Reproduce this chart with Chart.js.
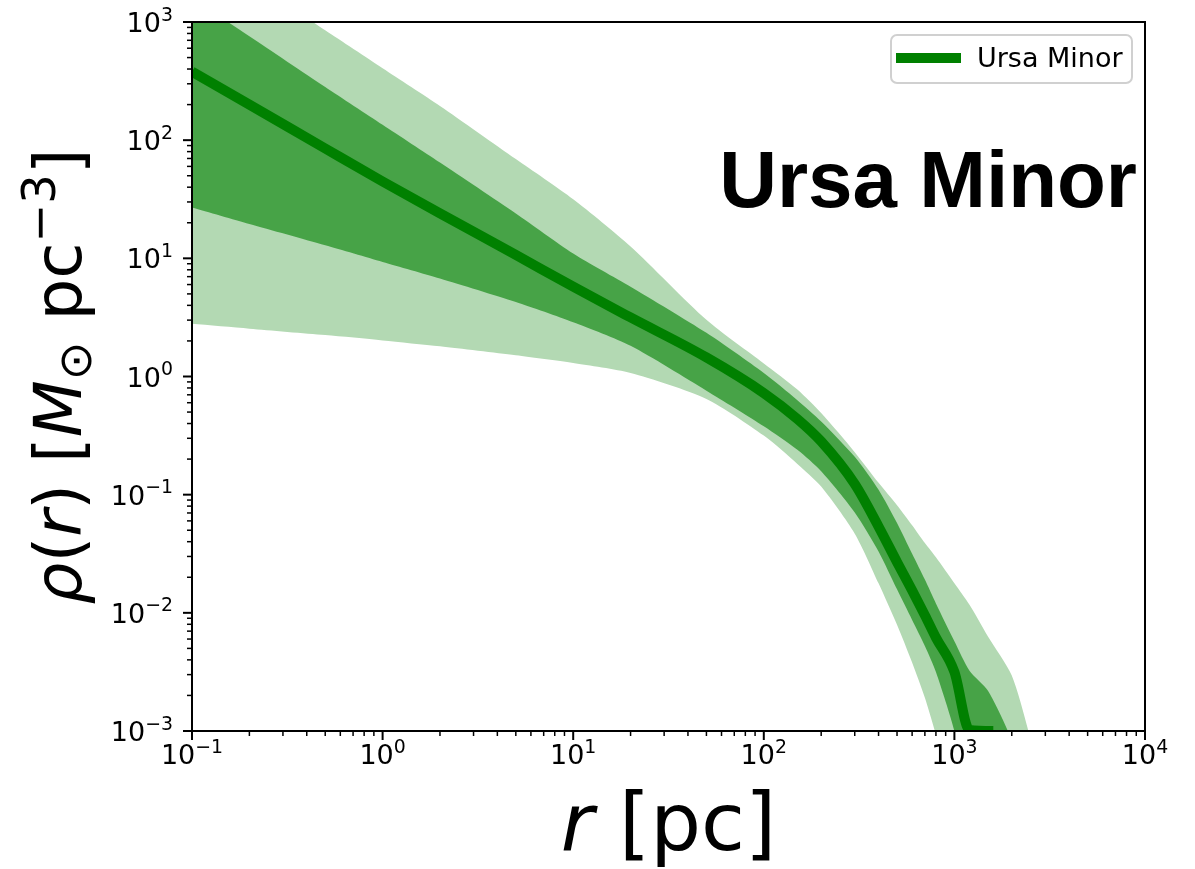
<!DOCTYPE html>
<html>
<head>
<meta charset="utf-8">
<script src="https://cdn.jsdelivr.net/npm/chart.js@4.4.1/dist/chart.umd.min.js"></script>
<style>
  html, body { margin: 0; padding: 0; background: #ffffff; }
  canvas { display: block; }
</style>
</head>
<body>
<canvas id="profile" width="1195" height="869"></canvas>
<script>
// Ursa Minor dark-matter density profile rho(r) [Msun pc^-3] vs r [pc]

// median profile
const medianR   = [0.1, 0.2, 0.5, 1, 2, 5, 10, 20, 50, 100, 150, 200, 300, 400, 500, 600, 700, 800, 1000, 1200, 1600];
const medianRho = [380, 200, 85, 44.7, 24.0, 10.7, 5.75, 3.16, 1.45, 0.724, 0.437, 0.282, 0.123, 0.0537, 0.0269, 0.0155, 0.00955, 0.00617, 0.00316, 0.00102, 0.00100];

// 68% band edges
const upper68R   = [0.1, 0.2, 0.5, 1, 2, 5, 10, 20, 50, 100, 150, 200, 300, 400, 500, 600, 700, 800, 1000, 1200, 1500, 2000, 2500];
const upper68Rho = [1585, 759, 282, 135, 64.6, 24.0, 11.0, 5.75, 2.34, 1.07, 0.631, 0.417, 0.209, 0.110, 0.0575, 0.0316, 0.0191, 0.0120, 0.00575, 0.00324, 0.00219, 0.00083, 0.00025];
const lower68R   = [0.1, 0.2, 0.5, 1, 2, 5, 10, 20, 50, 100, 150, 200, 300, 400, 500, 600, 700, 800, 1000, 1200];
const lower68Rho = [26.9, 19.5, 12.9, 9.33, 6.76, 4.27, 2.88, 1.82, 0.759, 0.380, 0.240, 0.158, 0.0708, 0.0331, 0.0158, 0.00871, 0.00525, 0.00316, 0.00100, 0.00025];

// 95% band edges
const upper95R   = [0.1, 0.2, 0.5, 1, 2, 5, 10, 20, 50, 100, 150, 200, 300, 400, 500, 600, 700, 800, 1000, 1200, 1500, 2000, 2500, 3000];
const upper95Rho = [4790, 2290, 851, 407, 195, 69.2, 31.6, 12.6, 3.02, 1.29, 0.776, 0.490, 0.229, 0.126, 0.0813, 0.0550, 0.0389, 0.0295, 0.0178, 0.0117, 0.00631, 0.00295, 0.00087, 0.00025];
const lower95R   = [0.1, 0.2, 0.5, 1, 2, 5, 10, 20, 50, 100, 150, 200, 300, 400, 500, 600, 700, 800, 1000];
const lower95Rho = [2.79, 2.54, 2.24, 2.02, 1.80, 1.51, 1.30, 1.07, 0.646, 0.316, 0.182, 0.117, 0.0468, 0.0178, 0.00794, 0.00380, 0.00191, 0.00093, 0.00025];

// decade exponents that carry labels
const xTickExps = [-1, 0, 1, 2, 3, 4];
const yTickExps = [-3, -2, -1, 0, 1, 2, 3];

const seriesLabel = 'Ursa Minor';
const panelTitle  = 'Ursa Minor';

const GREEN    = '#008000';
const GREEN_68 = '#47a347';
const GREEN_95 = '#b3d9b3';

const toPoints = (xs, ys) => xs.map((v, i) => ({ x: v, y: ys[i] }));
// closed outline: upper edge left->right, then lower edge right->left
const bandShape = (ur, uy, lr, ly) => toPoints(ur, uy).concat(toPoints(lr, ly).reverse());

const FONT = '"DejaVu Sans", "Liberation Sans", sans-serif';
const TICK_SIZE = 27;

function expText(e) { return (e < 0 ? '\u2212' : '') + Math.abs(e); }

// text runs with optional italics and raised/lowered pieces
function runsWidth(ctx, runs, size) {
  let w = 0;
  for (const r of runs) {
    ctx.font = (r.italic ? 'italic ' : '') + (size * (r.scale || 1)) + 'px ' + FONT;
    w += ctx.measureText(r.t).width;
  }
  return w;
}
function drawRuns(ctx, runs, size, x, y) {
  let cx = x;
  for (const r of runs) {
    ctx.font = (r.italic ? 'italic ' : '') + (size * (r.scale || 1)) + 'px ' + FONT;
    ctx.fillText(r.t, cx, y + (r.dy || 0) * size);
    cx += ctx.measureText(r.t).width;
  }
}
function powRuns(e) {
  return [{ t: '10' }, { t: expText(e), scale: 0.7, dy: -0.42 }];
}

const axesDecor = {
  id: 'axesDecor',
  afterDatasetsDraw(chart) {
    const { ctx, chartArea: a, scales: { x, y } } = chart;
    ctx.save();
    ctx.strokeStyle = '#000';
    ctx.fillStyle = '#000';
    ctx.lineCap = 'butt';

    // minor ticks
    ctx.lineWidth = 1.5;
    for (let i = 0; i < xTickExps.length - 1; i++) {
      for (let k = 2; k <= 9; k++) {
        const px = x.getPixelForValue(k * Math.pow(10, xTickExps[i]));
        ctx.beginPath(); ctx.moveTo(px, a.bottom); ctx.lineTo(px, a.bottom + 5); ctx.stroke();
      }
    }
    for (let i = 0; i < yTickExps.length - 1; i++) {
      for (let k = 2; k <= 9; k++) {
        const py = y.getPixelForValue(k * Math.pow(10, yTickExps[i]));
        ctx.beginPath(); ctx.moveTo(a.left - 5, py); ctx.lineTo(a.left, py); ctx.stroke();
      }
    }
    // major ticks
    ctx.lineWidth = 2;
    for (const e of xTickExps) {
      const px = x.getPixelForValue(Math.pow(10, e));
      ctx.beginPath(); ctx.moveTo(px, a.bottom); ctx.lineTo(px, a.bottom + 9); ctx.stroke();
    }
    for (const e of yTickExps) {
      const py = y.getPixelForValue(Math.pow(10, e));
      ctx.beginPath(); ctx.moveTo(a.left - 9, py); ctx.lineTo(a.left, py); ctx.stroke();
    }
    // frame
    ctx.strokeRect(a.left, a.top, a.right - a.left, a.bottom - a.top);

    // tick labels
    ctx.textAlign = 'left';
    ctx.textBaseline = 'alphabetic';
    for (const e of xTickExps) {
      const px = x.getPixelForValue(Math.pow(10, e));
      const runs = powRuns(e);
      const w = runsWidth(ctx, runs, TICK_SIZE);
      drawRuns(ctx, runs, TICK_SIZE, px - w / 2, a.bottom + 33);
    }
    for (const e of yTickExps) {
      const py = y.getPixelForValue(Math.pow(10, e));
      const runs = powRuns(e);
      const w = runsWidth(ctx, runs, TICK_SIZE);
      drawRuns(ctx, runs, TICK_SIZE, a.left - 19 - w, py + 10);
    }

    // x axis title
    const xRuns = [{ t: 'r', italic: true }, { t: ' [pc]' }];
    const XS = 80;
    const xw = runsWidth(ctx, xRuns, XS);
    drawRuns(ctx, xRuns, XS, (a.left + a.right) / 2 - xw / 2, a.bottom + 119);

    // y axis title
    const yRuns = [
      { t: '\u03c1', italic: true }, { t: '(' }, { t: 'r', italic: true }, { t: ')' },
      { t: ' [' }, { t: 'M', italic: true }, { t: '\u2299', scale: 0.7, dy: 0.15 },
      { t: ' pc' }, { t: '\u22123', scale: 0.7, dy: -0.4 }, { t: ']' }
    ];
    const YS = 66;
    const yw = runsWidth(ctx, yRuns, YS);
    ctx.save();
    ctx.translate(a.left - 111, (a.top + a.bottom) / 2);
    ctx.rotate(-Math.PI / 2);
    drawRuns(ctx, yRuns, YS, -yw / 2, 0);
    ctx.restore();

    // panel title
    ctx.font = 'bold 80px "Liberation Sans", Arial, sans-serif';
    ctx.textAlign = 'right';
    ctx.fillText(panelTitle, a.right - 8, a.top + 185);

    // legend
    const bw = 241, bh = 48;
    const bx = a.right - 13 - bw, by = a.top + 13;
    ctx.beginPath();
    if (ctx.roundRect) ctx.roundRect(bx, by, bw, bh, 6); else ctx.rect(bx, by, bw, bh);
    ctx.fillStyle = 'rgba(255,255,255,0.8)';
    ctx.fill();
    ctx.lineWidth = 2;
    ctx.strokeStyle = '#d0d0d0';
    ctx.stroke();
    ctx.beginPath();
    ctx.strokeStyle = GREEN;
    ctx.lineWidth = 10;
    ctx.moveTo(bx + 5, by + bh / 2 - 1);
    ctx.lineTo(bx + 70, by + bh / 2 - 1);
    ctx.stroke();
    ctx.fillStyle = '#000';
    ctx.textAlign = 'left';
    ctx.font = TICK_SIZE + 'px ' + FONT;
    ctx.fillText(chart.data.datasets[0].label, bx + 86, by + 32);
    ctx.restore();
  }
};

new Chart(document.getElementById('profile'), {
  type: 'line',
  data: {
    datasets: [
      {
        label: seriesLabel,
        data: toPoints(medianR, medianRho),
        borderColor: GREEN,
        borderWidth: 10,
        borderJoinStyle: 'round',
        pointRadius: 0,
        fill: false,
        cubicInterpolationMode: 'monotone',
        clip: 0,
        order: 0
      },
      {
        label: '68%',
        data: bandShape(upper68R, upper68Rho, lower68R, lower68Rho),
        borderColor: 'rgba(0,0,0,0)',
        borderWidth: 0,
        backgroundColor: GREEN_68,
        pointRadius: 0,
        fill: 'shape',
        tension: 0.25,
        order: 1
      },
      {
        label: '95%',
        data: bandShape(upper95R, upper95Rho, lower95R, lower95Rho),
        borderColor: 'rgba(0,0,0,0)',
        borderWidth: 0,
        backgroundColor: GREEN_95,
        pointRadius: 0,
        fill: 'shape',
        tension: 0.25,
        order: 2
      }
    ]
  },
  options: {
    responsive: false,
    animation: false,
    devicePixelRatio: 1,
    layout: { padding: { left: 192, right: 50, top: 22, bottom: 138 } },
    plugins: { legend: { display: false }, tooltip: { enabled: false } },
    scales: {
      x: { type: 'logarithmic', min: 0.1, max: 10000, display: false },
      y: { type: 'logarithmic', min: 0.001, max: 1000, display: false }
    }
  },
  plugins: [axesDecor]
});
</script>
</body>
</html>
